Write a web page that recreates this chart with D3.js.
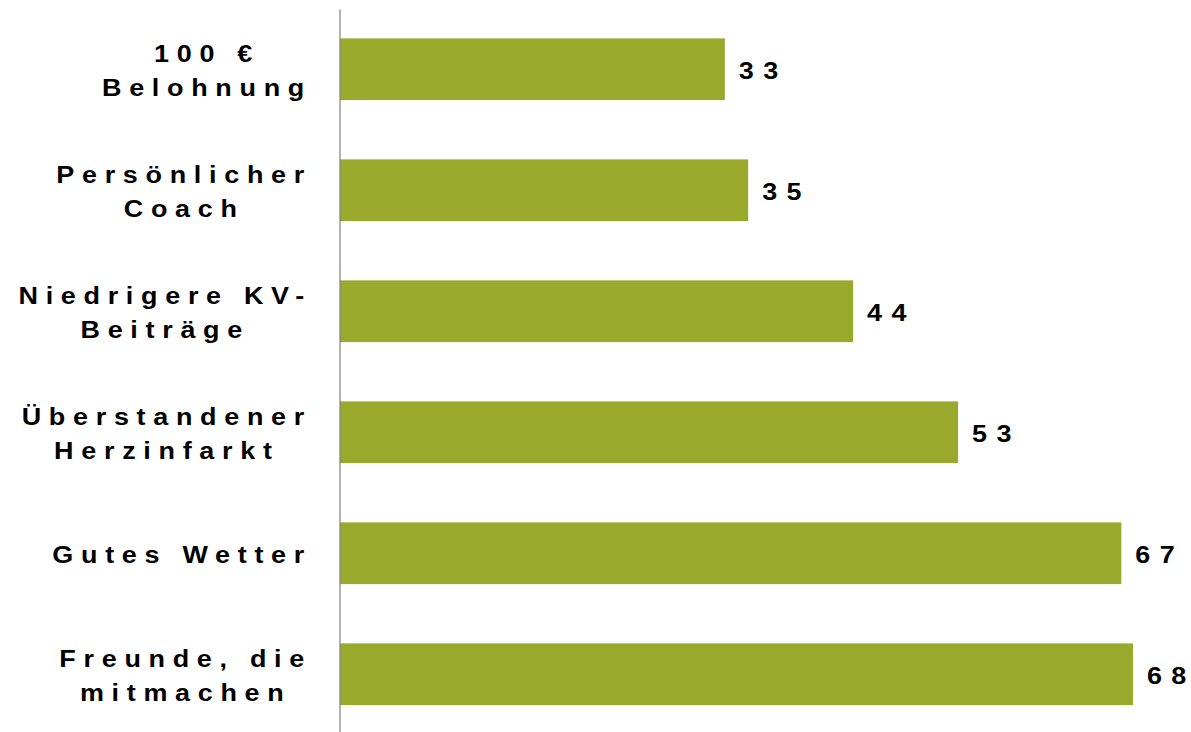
<!DOCTYPE html>
<html>
<head>
<meta charset="utf-8">
<script src="https://cdn.jsdelivr.net/npm/d3@7"></script>
<style>
  html, body { margin: 0; padding: 0; background: #ffffff; }
  svg { display: block; }
  text { font-family: "Liberation Sans", Arial, Helvetica, sans-serif; font-weight: bold; fill: #000; }
</style>
</head>
<body>
<svg id="chart" width="1191" height="732"></svg>
<script>
// Category labels (one array entry per line of the label)
const categories = [
  ["100 €", "Belohnung"],
  ["Persönlicher", "Coach"],
  ["Niedrigere KV-", "Beiträge"],
  ["Überstandener", "Herzinfarkt"],
  ["Gutes Wetter"],
  ["Freunde, die", "mitmachen"]
];
const values = [33, 35, 44, 53, 67, 68];

const width = 1191, height = 732;
const axisX = 340;
const labelRight = 312;
const fontSize = 24.5;
const spacing = 7.0;       // letter spacing before horizontal stretch
const valueSpacing = 8.5;
const stretch = 1.1;       // wide lettering
const lineHeight = 34;

const svg = d3.select("#chart");

const x = d3.scaleLinear().domain([0, 68]).range([axisX, 1133]);
const y = d3.scaleBand()
  .domain(d3.range(categories.length))
  .range([8.75, 734.75])
  .paddingInner(0.49)
  .paddingOuter(0.245);

// bars
svg.append("g").selectAll("rect")
  .data(values)
  .join("rect")
  .attr("x", x(0))
  .attr("y", (d, i) => y(i))
  .attr("width", d => x(d) - x(0))
  .attr("height", y.bandwidth())
  .attr("fill", "#99a92c");

// vertical axis line
svg.append("line")
  .attr("x1", axisX).attr("x2", axisX)
  .attr("y1", 9.5).attr("y2", height)
  .attr("stroke", "#808080")
  .attr("stroke-width", 1.2);

// value labels: spaced digits, no trailing gap after the last one
svg.append("g").selectAll("text")
  .data(values)
  .join("text")
  .attr("transform", (d, i) =>
    `translate(${x(d) + 14},${y(i) + y.bandwidth() / 2 + 9.5}) scale(${stretch},1)`)
  .attr("font-size", fontSize)
  .selectAll("tspan")
  .data(d => String(d).split(""))
  .join("tspan")
  .attr("dx", (c, j) => j ? valueSpacing : 0)
  .text(c => c);

// category labels: lines centred on each other, block right-aligned
const labelG = svg.append("g");
categories.forEach((lines, i) => {
  const cy = y(i) + y.bandwidth() / 2;
  const g = labelG.append("g");
  const texts = lines.map((line, k) => g.append("text")
    .attr("font-size", fontSize)
    .attr("letter-spacing", spacing)
    .datum(cy + 10 + (k - (lines.length - 1) / 2) * lineHeight)
    .text(line));
  const widths = texts.map(t => t.node().getComputedTextLength() * stretch);
  const maxW = d3.max(widths);
  texts.forEach((t, k) => {
    const tx = labelRight - maxW + (maxW - widths[k]) / 2;
    t.attr("transform", `translate(${tx},${t.datum()}) scale(${stretch},1)`);
  });
});
</script>
</body>
</html>
